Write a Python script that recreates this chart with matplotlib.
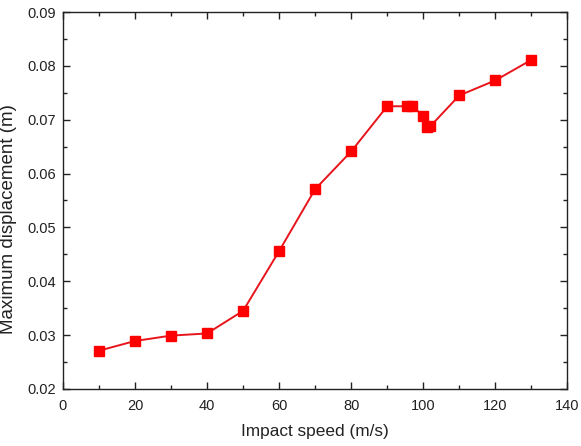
import matplotlib
matplotlib.use('Agg')
import matplotlib.pyplot as plt
from matplotlib.ticker import MultipleLocator

plt.rcParams['font.family'] = ['Liberation Sans', 'DejaVu Sans']

# impact speed (m/s) vs maximum displacement (m)
speed = [10, 20, 30, 40, 50, 60, 70, 80, 90, 95.6, 97, 100, 101, 102, 110, 120, 130]
disp = [0.0271, 0.0289, 0.0299, 0.0303, 0.0345, 0.0456, 0.0571, 0.0641, 0.0725,
        0.0725, 0.0725, 0.0707, 0.0687, 0.0688, 0.0745, 0.0773, 0.0811]

fig = plt.figure(figsize=(5.81, 4.46), dpi=100)
ax = fig.add_axes([0.1084, 0.128, 0.868, 0.845])

ax.plot(speed, disp, color='#e8141c', lw=1.4, marker='s', ms=6.5,
        mfc='red', mec='red')

ax.set_xlim(0, 140)
ax.set_ylim(0.02, 0.09)
ax.xaxis.set_major_locator(MultipleLocator(20))
ax.xaxis.set_minor_locator(MultipleLocator(10))
ax.yaxis.set_major_locator(MultipleLocator(0.01))
ax.yaxis.set_minor_locator(MultipleLocator(0.005))
ax.set_yticklabels([f'{v:.2f}' for v in ax.get_yticks()])

ax.tick_params(which='both', direction='in', top=True, right=True,
               labelsize=10.5, colors='#222222', width=1.0, pad=5)
ax.tick_params(axis='x', pad=7)
ax.tick_params(which='major', length=5)
ax.tick_params(which='minor', length=3)
for s in ax.spines.values():
    s.set_linewidth(1.0)
    s.set_color('#222222')

ax.set_xlabel('Impact speed (m/s)', fontsize=12.4, labelpad=8, color='#222222')
ax.set_ylabel('Maximum displacement (m)', fontsize=13.5, color='#222222')
ax.yaxis.set_label_coords(-0.091, 0.45)

fig.savefig('out.png', dpi=100)
